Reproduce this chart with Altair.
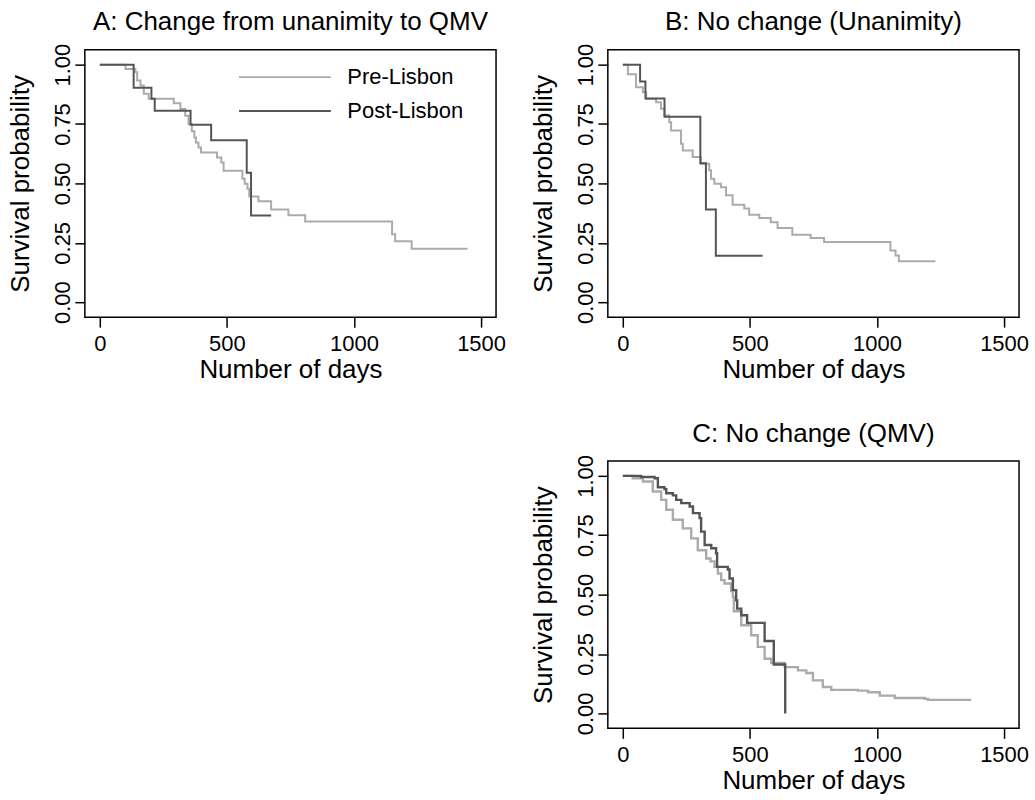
import altair as alt
import pandas as pd

FONT = "Liberation Sans"
GROUPS = ["Pre-Lisbon", "Post-Lisbon"]
COLORS = ["#ababab", "#555555"]

# ---- Panel A: Change from unanimity to QMV ----
a_pre_days = [0, 101, 140, 147, 160, 173, 192, 291, 317, 336, 349, 362, 372, 378, 388, 398,
              461, 478, 487, 561, 570, 581, 588, 624, 674, 742, 808, 1150, 1162, 1227, 1447]
a_pre_surv = [1.0, 0.982, 0.968, 0.933, 0.912, 0.877, 0.856, 0.837, 0.813, 0.785, 0.75, 0.72,
              0.693, 0.672, 0.651, 0.63, 0.609, 0.588, 0.553, 0.52, 0.499, 0.478, 0.445, 0.425,
              0.39, 0.366, 0.34, 0.286, 0.257, 0.225, 0.225]
a_post_days = [0, 133, 203, 216, 357, 438, 578, 595, 674]
a_post_surv = [1.0, 0.903, 0.856, 0.806, 0.747, 0.682, 0.545, 0.365, 0.365]

# ---- Panel B: No change (Unanimity) ----
b_pre_days = [0, 20, 52, 79, 92, 131, 150, 164, 183, 190, 229, 236, 275, 307, 340, 347, 360,
              386, 406, 432, 478, 497, 537, 582, 609, 667, 739, 792, 1053, 1073, 1086, 1230]
b_pre_surv = [1.0, 0.96, 0.905, 0.884, 0.856, 0.842, 0.814, 0.786, 0.758, 0.723, 0.667, 0.639,
              0.611, 0.583, 0.555, 0.52, 0.499, 0.484, 0.45, 0.41, 0.394, 0.368, 0.354, 0.337,
              0.312, 0.284, 0.27, 0.253, 0.218, 0.197, 0.172, 0.172]
b_post_days = [0, 68, 89, 164, 305, 327, 366, 550]
b_post_surv = [1.0, 0.929, 0.857, 0.781, 0.585, 0.39, 0.195, 0.195]

# ---- Panel C: No change (QMV) ----
c_pre_days = [0, 39, 79, 118, 151, 171, 197, 236, 269, 295, 328, 345, 361, 374, 387, 400, 426,
              433, 437, 466, 505, 531, 558, 584, 637, 689, 722, 748, 787, 820, 925, 965, 1011,
              1070, 1188, 1201, 1371]
c_pre_surv = [1.0, 0.99, 0.976, 0.934, 0.899, 0.857, 0.815, 0.779, 0.737, 0.687, 0.652, 0.64,
              0.617, 0.589, 0.561, 0.547, 0.515, 0.49, 0.43, 0.371, 0.329, 0.28, 0.23, 0.212,
              0.195, 0.181, 0.17, 0.139, 0.111, 0.099, 0.096, 0.089, 0.075, 0.065, 0.061, 0.057,
              0.057]
c_post_days = [0, 72, 125, 138, 164, 171, 197, 210, 230, 263, 276, 302, 308, 322, 348, 367, 371,
               413, 420, 433, 446, 450, 466, 489, 558, 594, 639]
c_post_surv = [1.0, 0.995, 0.99, 0.952, 0.944, 0.927, 0.918, 0.899, 0.885, 0.871, 0.843, 0.822,
               0.765, 0.709, 0.695, 0.674, 0.617, 0.606, 0.568, 0.519, 0.476, 0.441, 0.413,
               0.381, 0.305, 0.206, 0.0]

X_TICKS = [0, 500, 1000, 1500]
Y_TICKS = [0.0, 0.25, 0.5, 0.75, 1.0]


def km_frame(pre_d, pre_s, post_d, post_s):
    rows = []
    for g, ds, ss in (("Pre-Lisbon", pre_d, pre_s), ("Post-Lisbon", post_d, post_s)):
        for i, (d, s) in enumerate(zip(ds, ss)):
            rows.append({"group": g, "days": d, "surv": s, "idx": i})
    return pd.DataFrame(rows)


def panel(df, title, legend, width=2):
    return (
        alt.Chart(df)
        .mark_line(interpolate="step-after", strokeWidth=width)
        .encode(
            x=alt.X("days:Q",
                    scale=alt.Scale(domain=[-59, 1559], nice=False, zero=False),
                    axis=alt.Axis(values=X_TICKS, title="Number of days", format="d")),
            y=alt.Y("surv:Q",
                    scale=alt.Scale(domain=[-0.063, 1.063], nice=False, zero=False),
                    axis=alt.Axis(values=Y_TICKS, title="Survival probability", format=".2f")),
            color=alt.Color("group:N",
                            scale=alt.Scale(domain=GROUPS, range=COLORS),
                            legend=legend),
            order=alt.Order("idx:Q"),
        )
        .properties(width=412, height=268,
                    title=alt.TitleParams(title, font=FONT, fontSize=26,
                                          fontWeight="normal", color="black",
                                          anchor="middle", offset=8))
    )


# long horizontal legend key: a wide custom path drawn at a small symbol size
legend_a = alt.Legend(
    orient="none", legendX=188, legendY=15, title=None,
    symbolType="M-4,0H4", symbolSize=529, symbolStrokeWidth=2,
    labelFont=FONT, labelFontSize=22, labelColor="black", labelOffset=50,
    rowPadding=10,
)

chart_a = panel(km_frame(a_pre_days, a_pre_surv, a_post_days, a_post_surv),
                "A: Change from unanimity to QMV", legend_a)
chart_b = panel(km_frame(b_pre_days, b_pre_surv, b_post_days, b_post_surv),
                "B: No change (Unanimity)", None)
chart_c = panel(km_frame(c_pre_days, c_pre_surv, c_post_days, c_post_surv),
                "C: No change (QMV)", None, width=2.4)

right = alt.vconcat(chart_b, chart_c, spacing=144, bounds="flush")
chart = (
    alt.hconcat(chart_a, right, spacing=112, bounds="flush")
    .resolve_scale(color="independent")
    .properties(padding={"left": 7, "top": 7, "right": 5, "bottom": 5},
                background="white")
    .configure_view(stroke="black", strokeWidth=1.5)
    .configure_axis(domain=False, grid=False, ticks=True, tickSize=10, tickWidth=1.5,
                    tickColor="black", labelFont=FONT, labelFontSize=22,
                    labelColor="black", titleFont=FONT, titleFontSize=26,
                    titleFontWeight="normal", titleColor="black")
    .configure_axisY(labelAngle=270, labelAlign="center", labelBaseline="bottom",
                     labelPadding=0, titlePadding=18)
    .configure_axisX(labelPadding=6, titlePadding=2)
)

chart.save("out.html", embed_options={"renderer": "svg", "actions": False})
